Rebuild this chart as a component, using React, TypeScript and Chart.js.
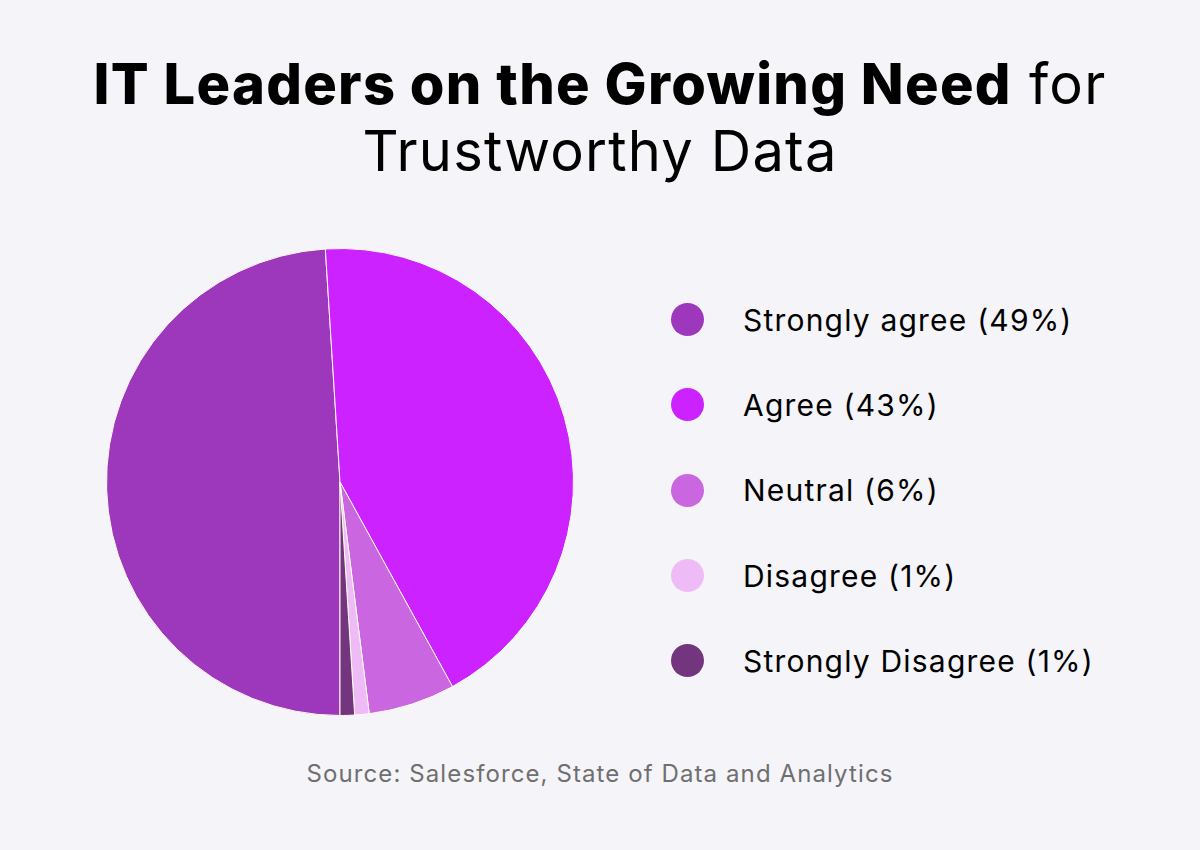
import React, { useEffect, useRef } from "react";
import { Chart, registerables } from "chart.js";

Chart.register(...registerables);

const categories = ["Strongly agree", "Agree", "Neutral", "Disagree", "Strongly Disagree"];
const shares = [49, 43, 6, 1, 1];
const sliceColors = ["#9d38bd", "#cc22ff", "#c966e0", "#eebbf7", "#74357f"];

const titleBold = "IT Leaders on the Growing Need";
const titleRest = " for";
const titleLine2 = "Trustworthy Data";
const sourceText = "Source: Salesforce, State of Data and Analytics";

const FONT = "Inter, 'Noto Sans', sans-serif";

export default function App() {
  const canvasRef = useRef<HTMLCanvasElement | null>(null);

  useEffect(() => {
    const canvas = canvasRef.current;
    if (!canvas) return;
    const chart = new Chart(canvas, {
      type: "pie",
      data: {
        labels: categories,
        datasets: [
          {
            data: shares,
            backgroundColor: sliceColors,
            borderColor: "#fffdf0",
            borderWidth: 1,
            hoverOffset: 0,
          },
        ],
      },
      options: {
        animation: false,
        responsive: false,
        rotation: 180,
        layout: { padding: 0 },
        plugins: {
          legend: { display: false },
          tooltip: { enabled: false },
        },
      },
    });
    return () => chart.destroy();
  }, []);

  return (
    <div
      style={{
        position: "absolute",
        left: 0,
        top: 0,
        width: 1200,
        height: 850,
        background: "#f5f4f9",
        fontFamily: FONT,
        color: "#000",
        overflow: "hidden",
      }}
    >
      <div
        style={{
          position: "absolute",
          left: 0,
          width: 1200,
          top: 50,
          textAlign: "center",
          fontSize: 56,
          lineHeight: "68px",
          whiteSpace: "nowrap",
        }}
      >
        <span style={{ fontWeight: 800, letterSpacing: 1.3 }}>{titleBold}</span>
        <span style={{ fontWeight: 400, letterSpacing: 1.3 }}>{titleRest}</span>
      </div>
      <div
        style={{
          position: "absolute",
          left: 0,
          width: 1200,
          top: 117,
          textAlign: "center",
          fontSize: 56,
          lineHeight: "68px",
          fontWeight: 400,
          letterSpacing: 1.2,
          whiteSpace: "nowrap",
        }}
      >
        {titleLine2}
      </div>

      <canvas
        ref={canvasRef}
        width={468}
        height={468}
        style={{ position: "absolute", left: 106, top: 248, width: 468, height: 468 }}
      />

      <div style={{ position: "absolute", left: 671, top: 277 }}>
        {categories.map((c, i) => (
          <div
            key={c}
            style={{ display: "flex", alignItems: "center", height: 85.3 }}
          >
            <div
              style={{
                width: 33,
                height: 33,
                borderRadius: "50%",
                background: sliceColors[i],
                marginRight: 39,
                flexShrink: 0,
              }}
            />
            <span style={{ fontSize: 30, letterSpacing: 1.2, whiteSpace: "nowrap" }}>
              {c} ({shares[i]}%)
            </span>
          </div>
        ))}
      </div>

      <div
        style={{
          position: "absolute",
          left: 0,
          width: 1200,
          top: 759,
          textAlign: "center",
          fontSize: 24,
          letterSpacing: 1.1,
          color: "#6f6f6f",
          whiteSpace: "nowrap",
        }}
      >
        {sourceText}
      </div>
    </div>
  );
}
